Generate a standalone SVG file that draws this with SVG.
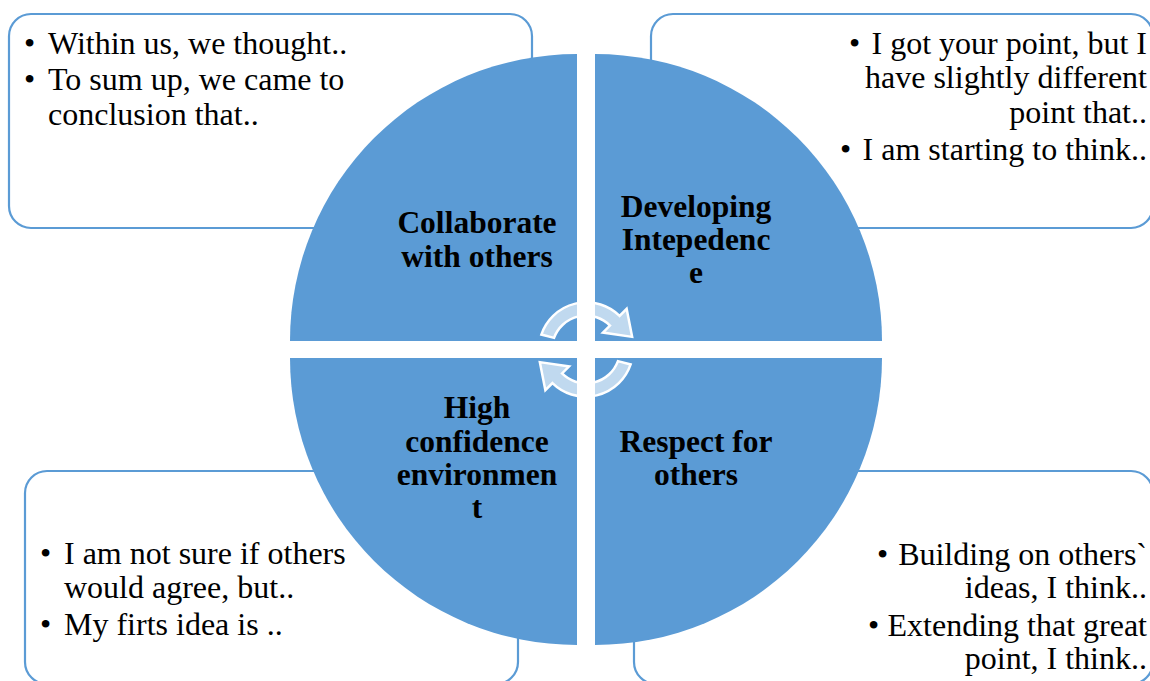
<svg xmlns="http://www.w3.org/2000/svg" width="1150" height="681" viewBox="0 0 1150 681">
<style>
.box{fill:#fff;stroke:#5B9BD5;stroke-width:2.2}
.q{fill:#5B9BD5}
.t{font-family:"Liberation Serif","Times New Roman",serif;font-size:32px;fill:#000}
.l{font-family:"Liberation Serif","Times New Roman",serif;font-size:31.5px;font-weight:bold;fill:#000;text-anchor:middle}
.r{text-anchor:end}
.arr{fill:#fff;fill-opacity:0.62;stroke:#fff;stroke-width:2.5;stroke-linejoin:miter}
</style>
<defs>
<path id="arw" d="M541.36,334.55 A47.5,47.5 0 0 1 619.57,315.91 L626.64,308.84 L632.13,336.87 L602.9,332.6 L609.97,325.53 A34,34 0 0 0 554.05,337.87 Z"/>
</defs>
<g id="box-tl">
<rect class="box" x="9" y="14" width="523" height="214" rx="22"/>
<text class="t" x="24" y="54">•</text><text class="t" x="48" y="54">Within us, we thought..</text>
<text class="t" x="24" y="90">•</text><text class="t" x="48" y="90">To sum up, we came to</text>
<text class="t" x="48" y="125">conclusion that..</text>
</g>
<g id="box-tr">
<rect class="box" x="651" y="14" width="502" height="214" rx="22"/>
<text class="t" x="849" y="54">•</text><text class="t r" x="1147" y="54">I got your point, but I</text>
<text class="t r" x="1147" y="88">have slightly different</text>
<text class="t r" x="1147" y="123">point that..</text>
<text class="t" x="840" y="160">•</text><text class="t r" x="1147" y="160">I am starting to think..</text>
</g>
<g id="box-bl">
<rect class="box" x="25" y="471" width="493" height="213" rx="22"/>
<text class="t" x="40" y="564">•</text><text class="t" x="64" y="564">I am not sure if others</text>
<text class="t" x="64" y="598">would agree, but..</text>
<text class="t" x="40" y="635">•</text><text class="t" x="64" y="635">My firts idea is ..</text>
</g>
<g id="box-br">
<rect class="box" x="634" y="471" width="519" height="213" rx="22"/>
<text class="t" x="877" y="565">•</text><text class="t r" x="1147" y="565">Building on others`</text>
<text class="t r" x="1147" y="598">ideas, I think..</text>
<text class="t" x="868" y="636">•</text><text class="t r" x="1147" y="636">Extending that great</text>
<text class="t r" x="1147" y="669">point, I think..</text>
</g>
<g id="q-tl">
<path class="q" d="M577,341 L290,341 A287,287 0 0 1 577,54 Z"/>
<text class="l" x="477" y="233">Collaborate</text>
<text class="l" x="477" y="267">with others</text>
</g>
<g id="q-tr">
<path class="q" d="M595,341 L595,54 A287,287 0 0 1 882,341 Z"/>
<text class="l" x="696" y="217">Developing</text>
<text class="l" x="696" y="250">Intepedenc</text>
<text class="l" x="696" y="283">e</text>
</g>
<g id="q-bl">
<path class="q" d="M577,358 L577,645 A287,287 0 0 1 290,358 Z"/>
<text class="l" x="477" y="418">High</text>
<text class="l" x="477" y="452">confidence</text>
<text class="l" x="477" y="485">environmen</text>
<text class="l" x="477" y="518">t</text>
</g>
<g id="q-br">
<path class="q" d="M595,358 L882,358 A287,287 0 0 1 595,645 Z"/>
<text class="l" x="696" y="452">Respect for</text>
<text class="l" x="696" y="485">others</text>
</g>
<g id="connectors">
<use href="#arw" class="arr"/>
<use href="#arw" class="arr" transform="rotate(180 586 349.5)"/>
</g>
</svg>
